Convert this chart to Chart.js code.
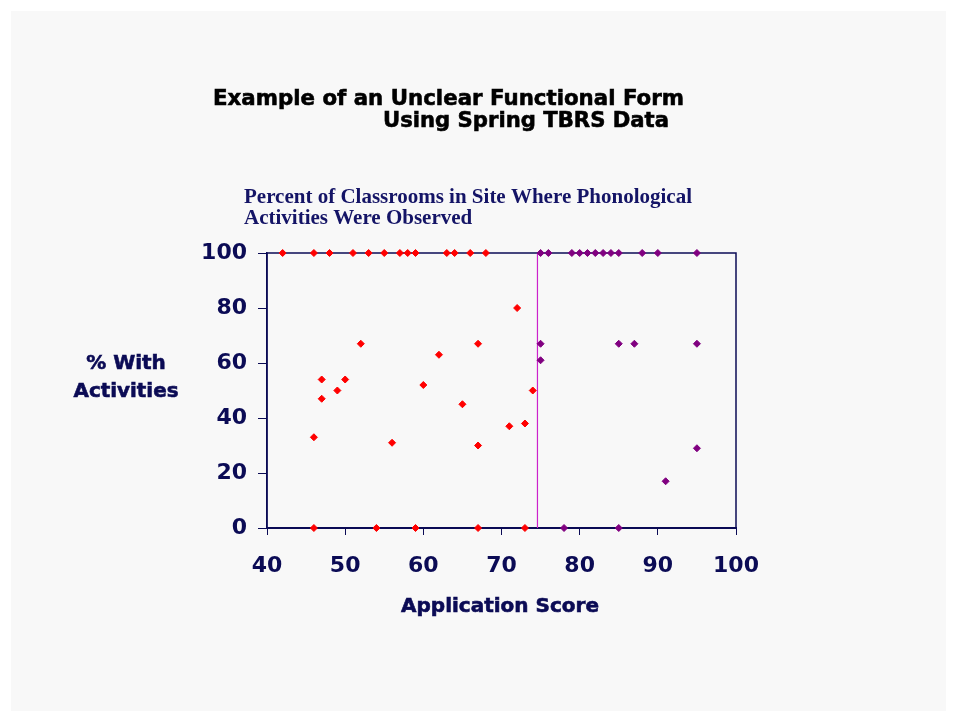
<!DOCTYPE html>
<html>
<head>
<meta charset="utf-8">
<script src="https://cdn.jsdelivr.net/npm/chart.js@4"></script>
<style>
  html, body { margin: 0; padding: 0; background: #ffffff; }
  #wrap { width: 956px; height: 721px; }
</style>
</head>
<body>
<div id="wrap"><canvas id="chart" width="956" height="721"></canvas></div>
<script>
// scores below the cut (red) and at/above it (purple)
const redScores = [42, 46, 48, 51, 53, 55, 57, 58, 59, 63, 64, 66, 68,
    52, 47, 50, 49, 47, 46, 56, 72, 67, 62, 60, 65, 74, 71, 73, 67,
    46, 54, 59, 67, 73];
const redPct = [100, 100, 100, 100, 100, 100, 100, 100, 100, 100, 100, 100, 100,
    67, 54, 54, 50, 47, 33, 31, 80, 67, 63, 52, 45, 50, 37, 38, 30,
    0, 0, 0, 0, 0];
const purpleScores = [75, 76, 79, 80, 81, 82, 83, 84, 85, 88, 90, 95,
    75, 75, 85, 87, 95, 91, 95,
    78, 85];
const purplePct = [100, 100, 100, 100, 100, 100, 100, 100, 100, 100, 100, 100,
    67, 61, 67, 67, 67, 17, 29,
    0, 0];
const cutScore = 74.6;
const xTicks = [40, 50, 60, 70, 80, 90, 100];
const yTicks = [0, 20, 40, 60, 80, 100];

const navy = '#0b0b55';
const toPoints = (xs, ys) => xs.map((x, i) => ({ x: x, y: ys[i] }));

// fill + thin stroke so the text looks as heavy as the original
function heavyText(ctx, text, x, y, maxWidth) {
    ctx.fillText(text, x, y, maxWidth);
    ctx.strokeText(text, x, y, maxWidth);
}

const decor = {
    id: 'decor',
    beforeDraw(chart) {
        const ctx = chart.ctx;
        ctx.save();
        ctx.fillStyle = '#ffffff';
        ctx.fillRect(0, 0, chart.width, chart.height);
        ctx.fillStyle = '#f8f8f8';
        ctx.fillRect(11, 11, 935, 700);
        ctx.restore();
    },
    beforeDatasetsDraw(chart) {
        const a = chart.chartArea;
        const ctx = chart.ctx;
        ctx.save();
        ctx.strokeStyle = navy;
        ctx.lineWidth = 1.5;
        ctx.strokeRect(a.left, a.top, a.right - a.left, a.bottom - a.top);
        ctx.restore();
    },
    afterDraw(chart) {
        const ctx = chart.ctx;
        ctx.save();
        ctx.textBaseline = 'alphabetic';
        ctx.lineWidth = 0.6;
        ctx.fillStyle = '#000000';
        ctx.strokeStyle = '#000000';
        ctx.font = 'bold 22px "DejaVu Sans"';
        ctx.textAlign = 'left';
        heavyText(ctx, 'Example of an Unclear Functional Form', 213, 105, 471);
        heavyText(ctx, 'Using Spring TBRS Data', 383, 127, 286);

        ctx.fillStyle = '#141466';
        ctx.font = 'bold 21px "Liberation Serif"';
        ctx.fillText('Percent of Classrooms in Site Where Phonological', 244, 203, 455);
        ctx.fillText('Activities Were Observed', 244, 224, 232);

        ctx.fillStyle = navy;
        ctx.strokeStyle = navy;
        ctx.font = 'bold 20px "DejaVu Sans"';
        ctx.textAlign = 'center';
        heavyText(ctx, '% With', 126, 369);
        heavyText(ctx, 'Activities', 126, 397, 105);
        heavyText(ctx, 'Application Score', 500, 612, 203);
        ctx.restore();
    }
};

new Chart(document.getElementById('chart'), {
    type: 'scatter',
    data: {
        datasets: [
            {
                label: 'cut',
                data: [{ x: cutScore, y: 0 }, { x: cutScore, y: 100 }],
                showLine: true,
                borderColor: '#cc22cc',
                borderWidth: 1.2,
                pointRadius: 0,
                order: 3
            },
            {
                label: 'below',
                data: toPoints(redScores, redPct),
                pointStyle: 'rectRot',
                pointRadius: 3.5,
                backgroundColor: '#ff0000',
                borderColor: '#ff0000',
                borderWidth: 1,
                clip: false,
                order: 1
            },
            {
                label: 'above',
                data: toPoints(purpleScores, purplePct),
                pointStyle: 'rectRot',
                pointRadius: 3.5,
                backgroundColor: '#800080',
                borderColor: '#800080',
                borderWidth: 1,
                clip: false,
                order: 2
            }
        ]
    },
    options: {
        responsive: false,
        animation: false,
        events: [],
        layout: { padding: { left: 0, top: 253, right: 220, bottom: 0 } },
        plugins: {
            legend: { display: false },
            title: { display: false },
            tooltip: { enabled: false }
        },
        scales: {
            x: {
                type: 'linear',
                min: 40,
                max: 100,
                afterBuildTicks: (scale) => { scale.ticks = xTicks.map(v => ({ value: v })); },
                afterFit: (scale) => { scale.height = 721 - 528; },
                ticks: {
                    color: navy,
                    font: { family: 'DejaVu Sans', size: 22, weight: 'bold' },
                    padding: 18,
                    maxRotation: 0
                },
                grid: {
                    drawOnChartArea: false,
                    drawTicks: true,
                    tickLength: 7,
                    color: navy,
                    lineWidth: 1
                },
                border: { display: true, color: navy, width: 2 }
            },
            y: {
                type: 'linear',
                min: 0,
                max: 100,
                afterBuildTicks: (scale) => { scale.ticks = yTicks.map(v => ({ value: v })); },
                afterFit: (scale) => { scale.width = 267; },
                ticks: {
                    color: navy,
                    font: { family: 'DejaVu Sans', size: 22, weight: 'bold' },
                    padding: 11
                },
                grid: {
                    drawOnChartArea: false,
                    drawTicks: true,
                    tickLength: 9,
                    color: navy,
                    lineWidth: 1
                },
                border: { display: true, color: navy, width: 1.5 }
            }
        }
    },
    plugins: [decor]
});
</script>
</body>
</html>
